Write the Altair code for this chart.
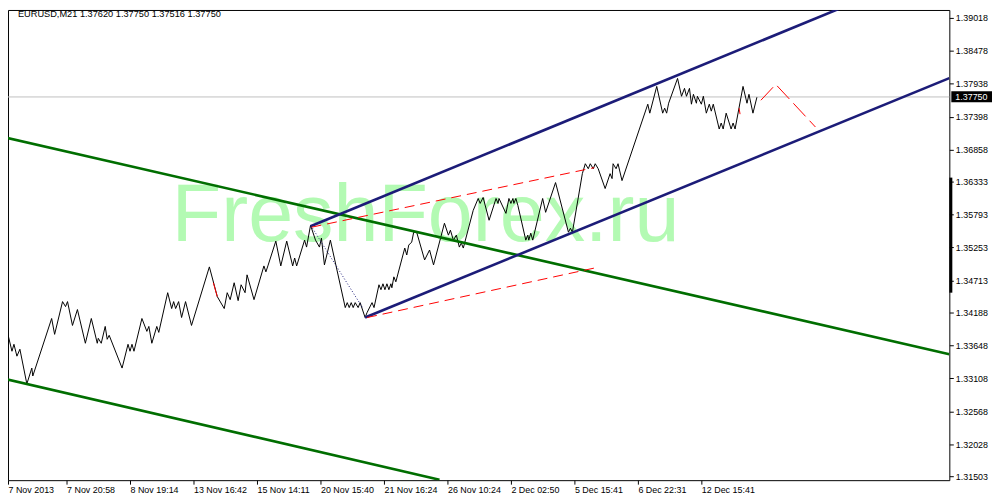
import altair as alt
import pandas as pd

# ---- price series (bar index, close) ----
bar_index = [0, 3, 9, 11, 14, 17, 24, 29, 30, 49, 52, 60, 63, 65, 70, 75, 83, 89, 95, 96,
             99, 103, 105, 107, 120, 126, 128, 130, 132, 140, 145, 147, 150, 155, 157, 166, 170, 172, 174, 177,
             180, 184, 190, 208, 216, 223, 226, 229, 233, 237, 240, 244, 246, 253, 263, 265, 267, 275, 280, 286,
             292, 294, 296, 304, 306, 310, 315, 319, 321, 324, 330, 345, 347, 349, 351, 353, 355, 358, 360, 365,
             367, 372, 374, 379, 381, 383, 385, 387, 389, 391, 392, 394, 396, 405, 407, 409, 412, 414, 417, 425,
             430, 434, 445, 449, 451, 454, 457, 460, 462, 464, 474, 479, 481, 484, 490, 497, 499, 500, 507, 510,
             512, 514, 515, 517, 519, 527, 529, 530, 532, 534, 544, 547, 557, 570, 572, 574, 584, 587, 590, 592,
             595, 597, 600, 607, 612, 614, 615, 618, 620, 624, 650, 652, 659, 665, 667, 669, 671, 680, 684, 687,
             689, 692, 694, 696, 699, 700, 704, 706, 709, 712, 714, 716, 722, 724, 726, 729, 734, 736, 738, 746,
             750, 752, 756, 760]
close_price = [1.33829, 1.33959, 1.33552, 1.33666, 1.33471, 1.33585, 1.33016, 1.33276, 1.33146, 1.34089,
               1.33829, 1.34366, 1.34284, 1.34366, 1.33975, 1.34236, 1.33683, 1.34089, 1.33683, 1.33764,
               1.33683, 1.33959, 1.33748, 1.33813, 1.33276, 1.33666, 1.33552, 1.33666, 1.33552, 1.34089,
               1.33878, 1.33959, 1.33683, 1.33959, 1.33861, 1.34512, 1.34252, 1.34366, 1.34252, 1.34366,
               1.34105, 1.34366, 1.33975, 1.34935, 1.34447, 1.34252, 1.34512, 1.34398, 1.34675, 1.34382,
               1.34642, 1.34512, 1.34805, 1.34398, 1.34951, 1.34854, 1.34951, 1.35358, 1.34951, 1.35358,
               1.34951, 1.35081, 1.34951, 1.35374, 1.35260, 1.35618, 1.35374, 1.35260, 1.35407, 1.34968,
               1.35374, 1.34268, 1.34349, 1.34268, 1.34349, 1.34268, 1.34349, 1.34268, 1.34349, 1.34105,
               1.34187, 1.34349, 1.34268, 1.34642, 1.34561, 1.34658, 1.34561, 1.34658, 1.34561, 1.34658,
               1.34593, 1.34772, 1.34691, 1.35244, 1.35130, 1.35293, 1.35342, 1.35504, 1.35504, 1.35049,
               1.35212, 1.34968, 1.35651, 1.35456, 1.35537, 1.35374, 1.35456, 1.35260, 1.35325, 1.35244,
               1.35862, 1.36057, 1.35976, 1.36074, 1.35700, 1.36057, 1.35976, 1.36057, 1.35813, 1.36057,
               1.35976, 1.36057, 1.35976, 1.36057, 1.35944, 1.35374, 1.35456, 1.35374, 1.35488, 1.35374,
               1.36057, 1.35830, 1.36318, 1.35504, 1.35569, 1.35504, 1.36464, 1.36627, 1.36545, 1.36627,
               1.36545, 1.36627, 1.36545, 1.36220, 1.36464, 1.36383, 1.36627, 1.36545, 1.36627, 1.36350,
               1.37603, 1.37456, 1.37895, 1.37456, 1.37538, 1.37456, 1.37619, 1.38026, 1.37733, 1.37863,
               1.37733, 1.37863, 1.37603, 1.37765, 1.37619, 1.37733, 1.37603, 1.37733, 1.37456, 1.37603,
               1.37489, 1.37603, 1.37196, 1.37294, 1.37196, 1.37456, 1.37196, 1.37294, 1.37196, 1.37895,
               1.37619, 1.37765, 1.37456, 1.37717]

# ---- axis ticks ----
x_tick_values = [5, 64, 128, 192, 256, 320, 384, 448, 512, 576, 640, 704]
x_tick_labels = ["7 Nov 2013", "7 Nov 20:58", "8 Nov 19:14", "13 Nov 16:42", "15 Nov 14:11",
                 "20 Nov 15:40", "21 Nov 16:24", "26 Nov 10:24", "2 Dec 02:50", "5 Dec 15:41",
                 "6 Dec 22:31", "12 Dec 15:41"]
y_tick_values = [1.31503, 1.32028, 1.32568, 1.33108, 1.33648, 1.34188, 1.34713, 1.35253,
                 1.35793, 1.36333, 1.36858, 1.37398, 1.37938, 1.38478, 1.39018]

# ---- drawn objects (trend lines), endpoints ----
green_name = ["g1", "g1", "g2", "g2"]
green_x = [0, 954, 0, 440]
green_y = [1.37066, 1.33504, 1.33105, 1.31446]

navy_name = ["n1", "n1", "n2", "n2"]
navy_x = [310, 852, 365, 954]
navy_y = [1.35602, 1.39229, 1.34105, 1.38030]

red_name = ["r1", "r1", "r2", "r2"]
red_x = [311, 596, 367, 597]
red_y = [1.35586, 1.36562, 1.34105, 1.34919]

dotted_x = [312, 363]
dotted_y = [1.35569, 1.34252]

forecast_x = [764, 779, 819]
forecast_y = [1.37668, 1.37928, 1.37229]

red_tick_name = ["a", "a", "b", "b"]
red_tick_x = [212, 216, 742, 743]
red_tick_y = [1.34675, 1.34447, 1.37538, 1.37440]

bid_line = 1.37722
bid_label = "1.37750"
title_text = "EURUSD,M21  1.37620 1.37750 1.37516 1.37750"
watermark_text = "FreshForex.ru"

FONT = "Liberation Sans"
W, H = 949, 474

x_scale = alt.Scale(domain=[5, 954], nice=False, zero=False)
y_scale = alt.Scale(domain=[1.31438, 1.39148], nice=False, zero=False)

label_arr = "[" + ",".join("'" + s + "'" for s in x_tick_labels) + "]"
x_axis = alt.Axis(values=x_tick_values, labelExpr=label_arr + "[round(datum.value/64)]",
                  title=None, grid=False, domain=False, tickSize=4, tickColor="black",
                  labelAlign="left", labelBaseline="top", labelPadding=1, labelFont=FONT,
                  labelFontSize=9, labelColor="black", labelOverlap=False, labelFlush=False,
                  labelBound=False)
y_axis = alt.Axis(orient="right", values=y_tick_values, format=".5f", title=None, grid=False,
                  domain=False, tickSize=4, tickColor="black", labelAlign="left",
                  labelBaseline="middle", labelPadding=2, labelFont=FONT, labelFontSize=9,
                  labelColor="black", labelOverlap=False, labelBound=False, labelFlush=False)


def X():
    return alt.X("x:Q", scale=x_scale, axis=x_axis)


def Y():
    return alt.Y("y:Q", scale=y_scale, axis=y_axis)


one = pd.DataFrame({"t": [0]})

watermark = alt.Chart(one).mark_text(
    text=watermark_text, font=FONT, fontSize=81.5, color="#b3fab3", align="center",
    baseline="alphabetic").encode(x=alt.value(421), y=alt.value(233))

price_df = pd.DataFrame({"x": bar_index, "y": close_price})

bid = alt.Chart(pd.DataFrame({"y": [bid_line]})).mark_rule(
    color="#c0c0c0", strokeWidth=1).encode(y=Y())

price = alt.Chart(price_df).mark_line(color="black", strokeWidth=1, clip=True).encode(x=X(), y=Y())

green = alt.Chart(pd.DataFrame({"n": green_name, "x": green_x, "y": green_y})).mark_line(
    color="#006e00", strokeWidth=2.6, clip=True).encode(x=X(), y=Y(), detail="n:N")

navy = alt.Chart(pd.DataFrame({"n": navy_name, "x": navy_x, "y": navy_y})).mark_line(
    color="#1c1c78", strokeWidth=2.6, clip=True).encode(x=X(), y=Y(), detail="n:N")

dotted = alt.Chart(pd.DataFrame({"x": dotted_x, "y": dotted_y})).mark_line(
    color="#1c1c78", strokeWidth=1, strokeDash=[1, 2], clip=True).encode(x=X(), y=Y())

red = alt.Chart(pd.DataFrame({"n": red_name, "x": red_x, "y": red_y})).mark_line(
    color="#ff0000", strokeWidth=1, strokeDash=[10, 6], clip=True).encode(x=X(), y=Y(), detail="n:N")

red_ticks = alt.Chart(pd.DataFrame({"n": red_tick_name, "x": red_tick_x, "y": red_tick_y})).mark_line(
    color="#ff0000", strokeWidth=1, clip=True).encode(x=X(), y=Y(), detail="n:N")

forecast = alt.Chart(pd.DataFrame({"x": forecast_x, "y": forecast_y})).mark_line(
    color="#ff0000", strokeWidth=1, strokeDash=[18, 6], clip=True).encode(x=X(), y=Y())

title = alt.Chart(one).mark_text(
    text=title_text, font=FONT, fontSize=9.3, color="black", align="left",
    baseline="alphabetic").encode(x=alt.value(10), y=alt.value(7))

box = alt.Chart(one).mark_rect(color="black").encode(
    x=alt.value(951), x2=alt.value(992), y=alt.value(82), y2=alt.value(93))
box_text = alt.Chart(one).mark_text(
    text=bid_label, font=FONT, fontSize=9, color="white", align="left",
    baseline="middle").encode(x=alt.value(955), y=alt.value(88))

bar = alt.Chart(one).mark_rule(color="black", strokeWidth=3).encode(
    x=alt.value(950.5), y=alt.value(169), y2=alt.value(285))

chart = alt.layer(
    watermark, bid, price, green, navy, dotted, red, red_ticks, forecast, title, box, box_text, bar
).properties(
    width=W, height=H,
    autosize=alt.AutoSizeParams(type="none"),
    padding={"left": 0, "top": 0, "right": 43, "bottom": 18},
    background="white",
).configure_view(stroke="black", strokeWidth=1)

chart.save("out.html", embed_options={"renderer": "svg", "actions": False})
